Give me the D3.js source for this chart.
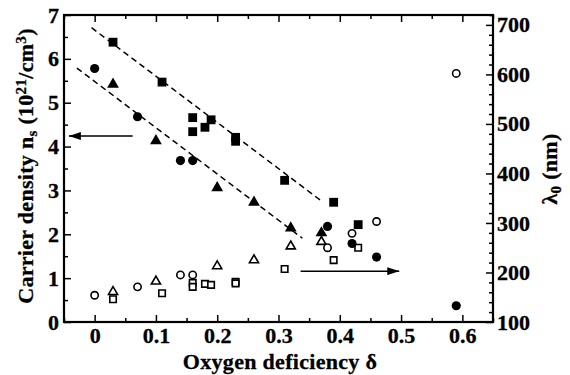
<!DOCTYPE html>
<html>
<head>
<meta charset="utf-8">
<script src="https://cdn.jsdelivr.net/npm/d3@7"></script>
<style>
body { margin: 0; background: #fff; }
</style>
</head>
<body>
<div id="chart"></div>
<script>
// filled symbols -> left axis (carrier density), open symbols -> right axis (lambda0)
var sqFilled = [[0.03,6.38],[0.11,5.47],[0.16,4.66],[0.16,4.34],[0.18,4.44],[0.19,4.61],[0.23,4.21],[0.23,4.12],[0.31,3.23],[0.39,2.73],[0.43,2.22]];
var ciFilled = [[0,5.78],[0.07,4.68],[0.14,3.68],[0.16,3.68],[0.38,2.18],[0.42,1.79],[0.46,1.48],[0.59,0.37]];
var trFilled = [[0.03,5.42],[0.10,4.13],[0.20,3.06],[0.26,2.73],[0.32,2.14],[0.37,2.03]];

var ciOpen = [[0,154],[0.07,171],[0.14,195],[0.16,195],[0.38,250],[0.42,279],[0.46,303],[0.59,602]];
var trOpen = [[0.03,161],[0.10,182],[0.20,213],[0.26,225],[0.32,253],[0.37,262]];
var sqOpen = [[0.03,146],[0.11,158],[0.16,179],[0.16,171],[0.18,177],[0.19,175],[0.23,181],[0.23,178],[0.31,207],[0.39,225],[0.43,250]];

// dashed fit lines [delta, n]
var fitUpper = [[-0.005,6.71],[0.371,2.75]];
var fitLower = [[-0.029,5.79],[0.339,1.91]];

// arrows [delta, n]
var arrowLeft = [[0.062,4.24],[-0.042,4.24]];
var arrowRight = [[0.336,1.16],[0.497,1.16]];

var xTicks = [0,0.1,0.2,0.3,0.4,0.5,0.6];
var yTicks = [0,1,2,3,4,5,6,7];
var y2Ticks = [100,200,300,400,500,600,700];

var FONT = "Liberation Serif";

var W = 570, H = 375;
var margin = {top: 15, right: 77, bottom: 53, left: 64},
width = W - margin.left - margin.right,
height = H - margin.top - margin.bottom;

var svg = d3.select("#chart")
	.append("svg")
		.attr("width", W)
		.attr("height", H)
	.append("g")
		.attr("transform", `translate(${margin.left},${margin.top})`);

var x = d3.scaleLinear().domain([-0.05, 0.65]).range([0, width]);
var y = d3.scaleLinear().domain([0, 7]).range([height, 0]);
var y2 = d3.scaleLinear().domain([100, 720]).range([height, 0]);

// minor ticks
var xMinor = d3.range(-0.05, 0.651, 0.05).filter(d => Math.abs(Math.round(d*10) - d*10) > 0.01);
var yMinor = d3.range(0.5, 7, 1);
var y2Minor = d3.range(120, 721, 20).filter(d => d % 100 != 0);

function styleAxis(g){
	g.attr("font-family", FONT);
	g.select(".domain").remove();
	g.selectAll("line").attr("stroke", "#000").attr("stroke-width", 1.5);
	g.selectAll("text").attr("font-family", FONT).attr("font-size", 22)
		.attr("font-weight", "bold").attr("fill", "#000")
		.attr("stroke", "#000").attr("stroke-width", 0.3);
}

// bottom
svg.append("g").attr("transform", `translate(0,${height})`)
	.call(d3.axisBottom(x).tickValues(xTicks).tickFormat(d => d == 0 ? "0" : d3.format(".1f")(d)).tickSizeInner(-7).tickSizeOuter(0).tickPadding(5))
	.call(styleAxis);
svg.append("g").attr("transform", `translate(0,${height})`)
	.call(d3.axisBottom(x).tickValues(xMinor).tickFormat("").tickSizeInner(-4).tickSizeOuter(0))
	.call(styleAxis);
// top
svg.append("g")
	.call(d3.axisTop(x).tickValues(xTicks).tickFormat("").tickSizeInner(-7).tickSizeOuter(0))
	.call(styleAxis);
svg.append("g")
	.call(d3.axisTop(x).tickValues(xMinor).tickFormat("").tickSizeInner(-4).tickSizeOuter(0))
	.call(styleAxis);
// left
svg.append("g")
	.call(d3.axisLeft(y).tickValues(yTicks).tickFormat(d3.format("d")).tickSizeInner(-7).tickSizeOuter(0).tickPadding(5))
	.call(styleAxis);
svg.append("g")
	.call(d3.axisLeft(y).tickValues(yMinor).tickFormat("").tickSizeInner(-4).tickSizeOuter(0))
	.call(styleAxis);
// right
svg.append("g").attr("transform", `translate(${width},0)`)
	.call(d3.axisRight(y2).tickValues(y2Ticks).tickFormat(d3.format("d")).tickSizeInner(-7).tickSizeOuter(0).tickPadding(4))
	.call(styleAxis);
svg.append("g").attr("transform", `translate(${width},0)`)
	.call(d3.axisRight(y2).tickValues(y2Minor).tickFormat("").tickSizeInner(-4).tickSizeOuter(0))
	.call(styleAxis);

// frame
svg.append("rect")
	.attr("width", width).attr("height", height)
	.attr("fill", "none").attr("stroke", "#000").attr("stroke-width", 2.2);

// dashed lines
var line = d3.line().x(d => x(d[0])).y(d => y(d[1]));
[fitUpper, fitLower].forEach(f => {
	svg.append("path").datum(f)
		.attr("d", line)
		.attr("fill", "none").attr("stroke", "#000")
		.attr("stroke-width", 1.5).attr("stroke-dasharray", "6,4");
});

// arrows
svg.append("defs").append("marker")
	.attr("id", "head").attr("viewBox", "0 0 12 8")
	.attr("refX", 12).attr("refY", 4)
	.attr("markerWidth", 12).attr("markerHeight", 8)
	.attr("markerUnits", "userSpaceOnUse")
	.attr("orient", "auto")
	.append("path").attr("d", "M0,0L12,4L0,8Z").attr("fill", "#000");
[arrowLeft, arrowRight].forEach(a => {
	svg.append("path").datum(a)
		.attr("d", line)
		.attr("stroke", "#000").attr("stroke-width", 1.5)
		.attr("marker-end", "url(#head)");
});

// symbols
function drawPts(data, yScale, type, filled, size){
	svg.append("g").selectAll("path").data(data).enter()
		.append("path")
		.attr("transform", d => `translate(${x(d[0])},${yScale(d[1])})`)
		.attr("d", d3.symbol().type(type).size(size))
		.attr("fill", filled ? "#000" : "#fff")
		.attr("stroke", "#000")
		.attr("stroke-width", filled ? 0 : 1.6);
}
drawPts(sqOpen, y2, d3.symbolSquare, false, 42);
drawPts(trOpen, y2, d3.symbolTriangle, false, 36);
drawPts(ciOpen, y2, d3.symbolCircle, false, 42);
drawPts(sqFilled, y, d3.symbolSquare, true, 78);
drawPts(trFilled, y, d3.symbolTriangle, true, 60);
drawPts(ciFilled, y, d3.symbolCircle, true, 66);

// axis titles
var root = d3.select("svg");
function title(sel){
	return sel.attr("font-family", FONT).attr("font-weight", "bold")
		.attr("font-size", 22).attr("letter-spacing", 0.3)
		.attr("stroke", "#000").attr("stroke-width", 0.3)
		.attr("text-anchor", "middle");
}
var yl = root.append("text").call(title)
	.attr("transform", "translate(33,166) rotate(-90)");
yl.append("tspan").text("Carrier density n");
yl.append("tspan").attr("font-size", 15).attr("baseline-shift", "-25%").text("s");
yl.append("tspan").text(" (10");
yl.append("tspan").attr("font-size", 15).attr("baseline-shift", "45%").text("21");
yl.append("tspan").text("/cm");
yl.append("tspan").attr("font-size", 15).attr("baseline-shift", "45%").text("3");
yl.append("tspan").text(")");

var yr = root.append("text").call(title)
	.attr("transform", "translate(557,169) rotate(-90)");
yr.append("tspan").text("\u03bb");
yr.append("tspan").attr("font-size", 15).attr("baseline-shift", "-25%").text("0");
yr.append("tspan").text(" (nm)");

root.append("text").call(title)
	.attr("x", 280).attr("y", 369)
	.text("Oxygen deficiency \u03b4");
</script>
</body>
</html>
